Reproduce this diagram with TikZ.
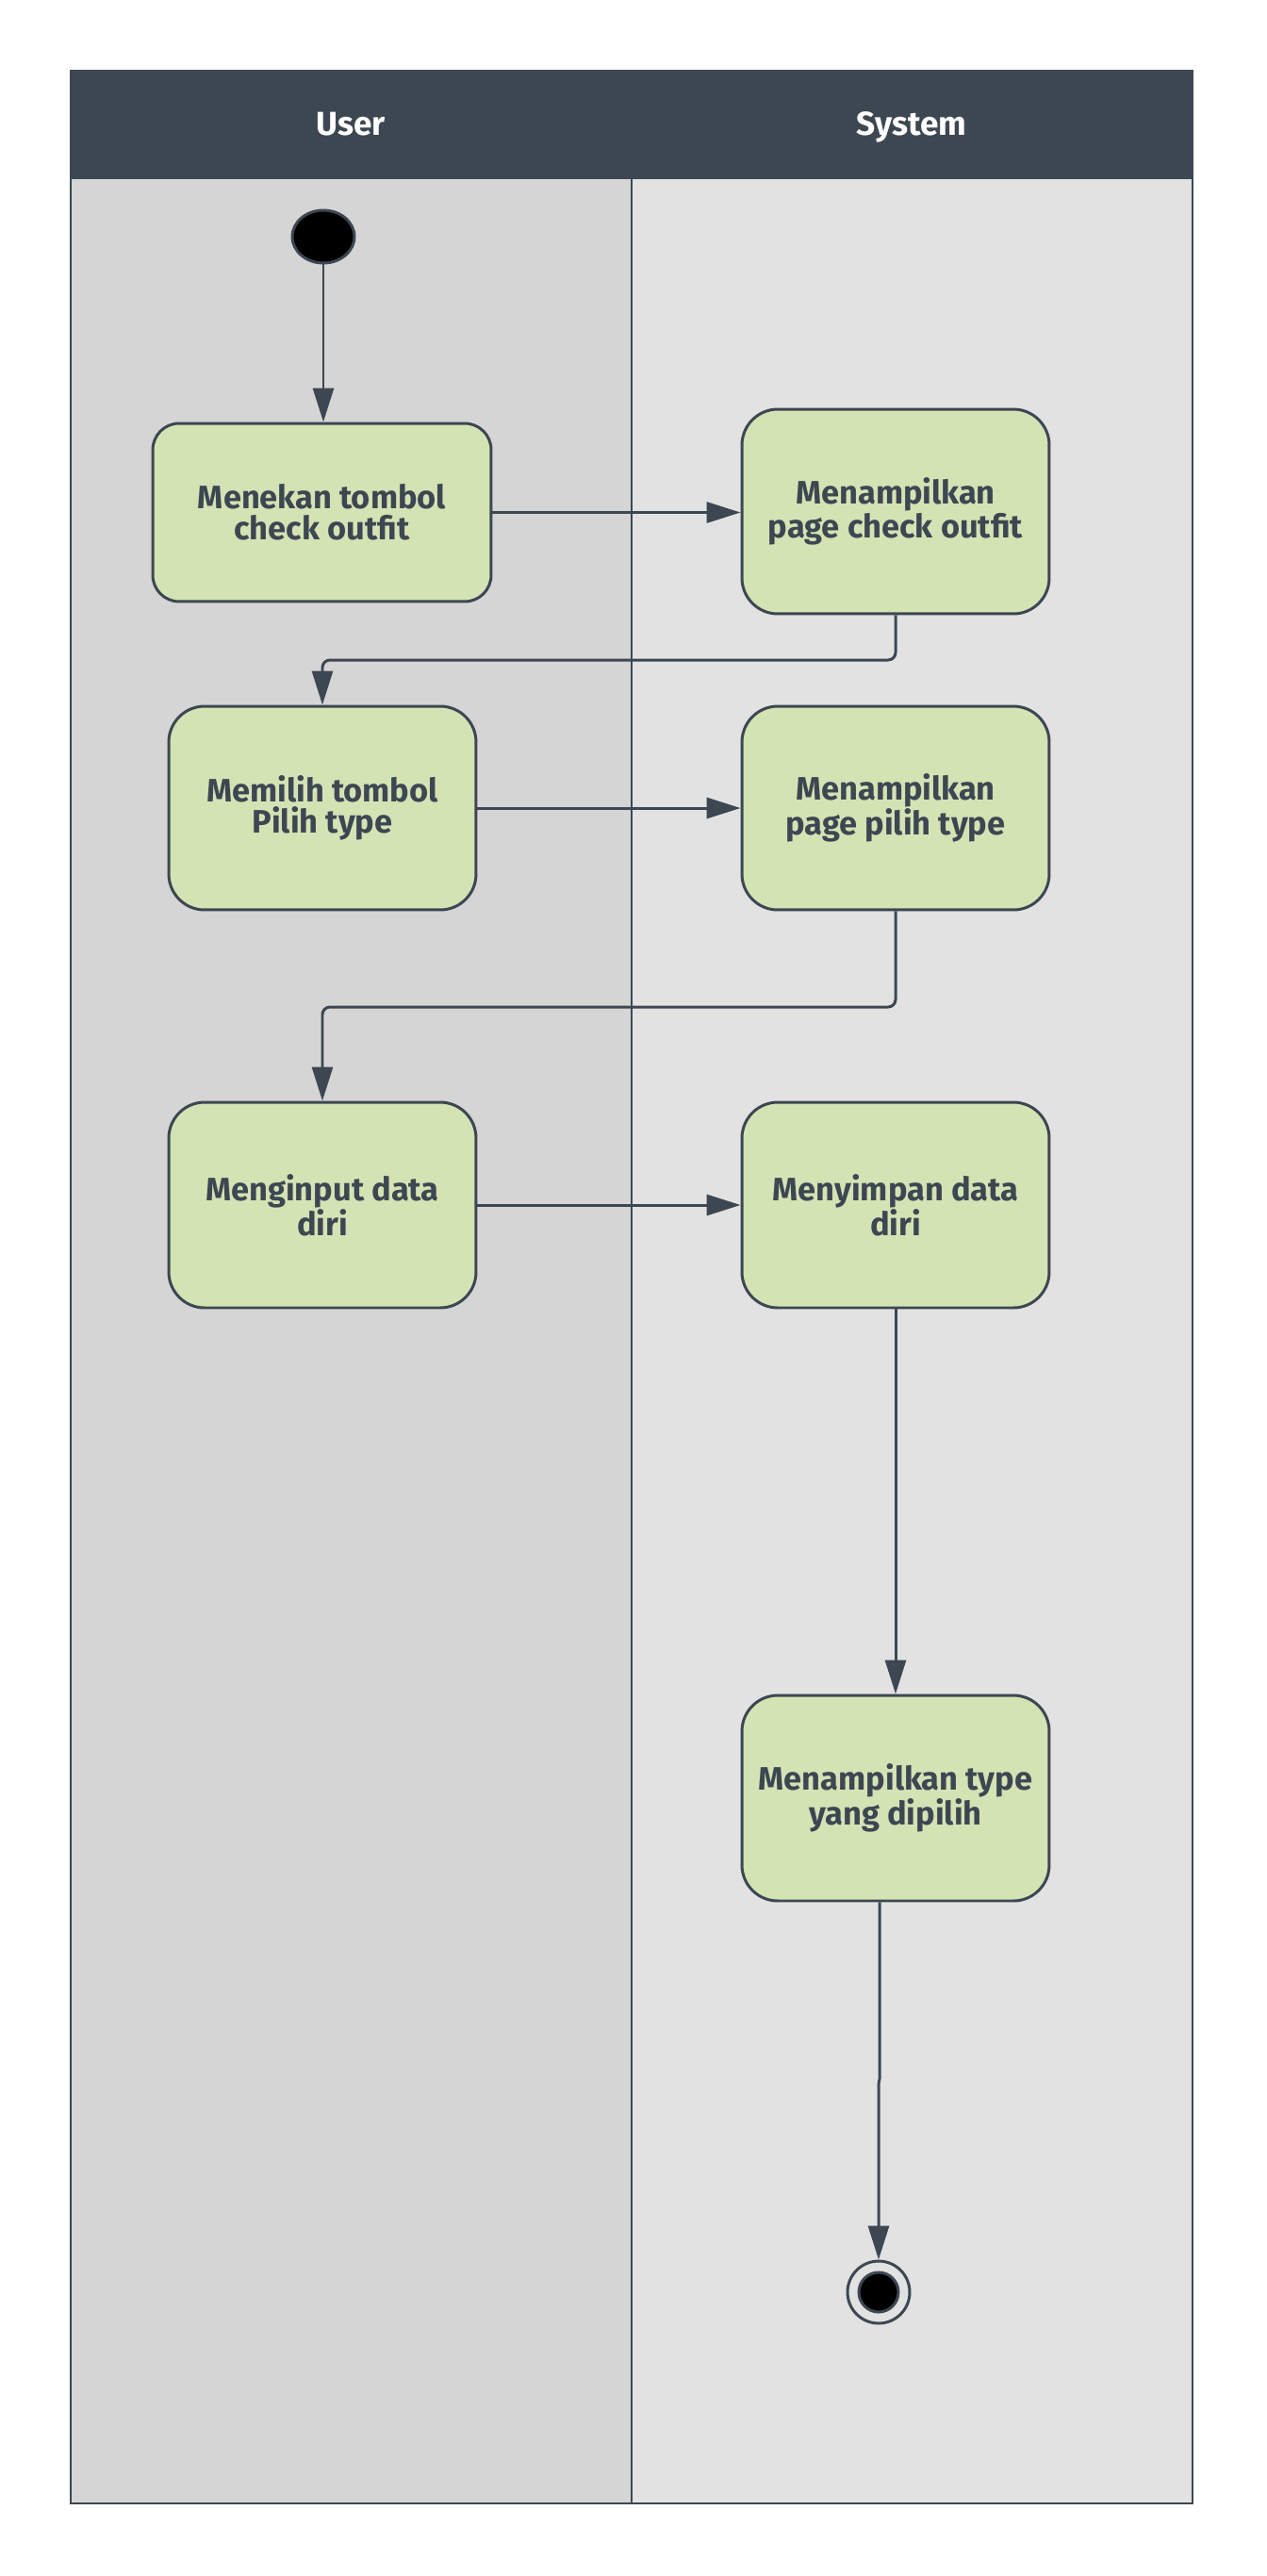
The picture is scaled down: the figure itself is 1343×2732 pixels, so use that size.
\documentclass[tikz,border=0pt]{standalone}
\usepackage{fontspec}
\setmainfont{Fira Sans}
\usetikzlibrary{arrows.meta,shapes.geometric}
\definecolor{ink}{HTML}{3D4752}
\definecolor{laneA}{HTML}{D5D5D5}
\definecolor{laneB}{HTML}{E2E2E2}
\definecolor{act}{HTML}{D4E3B4}
\begin{document}
\begin{tikzpicture}[x=0.02cm,y=-0.02cm,
  actbox/.style={draw=ink,line width=1.7pt,fill=act,rounded corners=0.76cm,
    align=center,text=ink,font=\fontsize{19.6}{18.8}\selectfont\bfseries,
    minimum width=6.52cm,minimum height=4.34cm,inner sep=0pt},
  flow/.style={draw=ink,line width=1.7pt,
    -{Triangle[length=0.72cm,width=0.44cm]}},
  lanehead/.style={text=white,anchor=base,font=\fontsize{20}{22}\selectfont\bfseries}]
\useasboundingbox (0,0) rectangle (1343,2732);
\fill[white] (0,0) rectangle (1343,2732);

% swimlanes
\fill[laneA] (75,190) rectangle (670,2655);
\fill[laneB] (670,190) rectangle (1265,2655);
\fill[ink] (75,75) rectangle (1265,190);
\draw[ink,line width=0.8pt] (75,75) rectangle (1265,2655);
\draw[ink,line width=0.9pt] (670,190) -- (670,2655);
\draw[ink,line width=1.6pt] (75,2655) -- (1265,2655);
\node[lanehead] (hUser) at (372,143) {User};
\node[lanehead] (hSys) at (967,143) {System};

% start and end
\node[ellipse,draw=ink,line width=1.7pt,fill=black,minimum width=1.32cm,
  minimum height=1.12cm,inner sep=0pt] (start) at (343,251) {};
\node[circle,draw=ink,line width=1.7pt,fill=laneB,minimum size=1.32cm,
  inner sep=0pt] (end) at (932,2431) {};
\node[circle,draw=ink,line width=1.7pt,fill=black,minimum size=0.84cm,
  inner sep=0pt] (endDot) at (932,2431) {};

% activities
\node[actbox,minimum width=7.18cm,minimum height=3.78cm,rounded corners=0.56cm]
  (a1) at (341.5,543.5) {Menekan tombol\\check outfit};
\node[actbox] (a2) at (950,542.5) {Menampilkan\\page check outfit};
\node[actbox,minimum height=4.32cm] (b1) at (342,857) {Memilih tombol\\Pilih type};
\node[actbox,minimum height=4.32cm] (b2) at (950,857) {Menampilkan\\page pilih type};
\node[actbox,minimum height=4.36cm] (c1) at (342,1278) {Menginput data\\diri};
\node[actbox,minimum height=4.36cm] (c2) at (950,1278) {Menyimpan data\\diri};
\node[actbox,minimum height=4.36cm] (d) at (950,1907) {Menampilkan type\\yang dipilih};

% connectors
\coordinate (j1) at (0,700);
\coordinate (j2) at (0,1068);
\coordinate (k1) at (933,2205);
\coordinate (k2) at (932,2210);

\draw[flow] (start) -- (start |- a1.north);
\draw[flow] (a1.east) -- (a1.east -| a2.west);
\draw[flow,rounded corners=0.16cm] (a2.south) -- (a2.south |- j1) -| (b1.north);
\draw[flow] (b1.east) -- (b1.east -| b2.west);
\draw[flow,rounded corners=0.16cm] (b2.south) -- (b2.south |- j2) -| (c1.north);
\draw[flow] (c1.east) -- (c1.east -| c2.west);
\draw[flow] (c2.south) -- (d.north);
\draw[flow] (d.south -| k1) -- (k1) -- (k2) -- (end.north);
\end{tikzpicture}
\end{document}
